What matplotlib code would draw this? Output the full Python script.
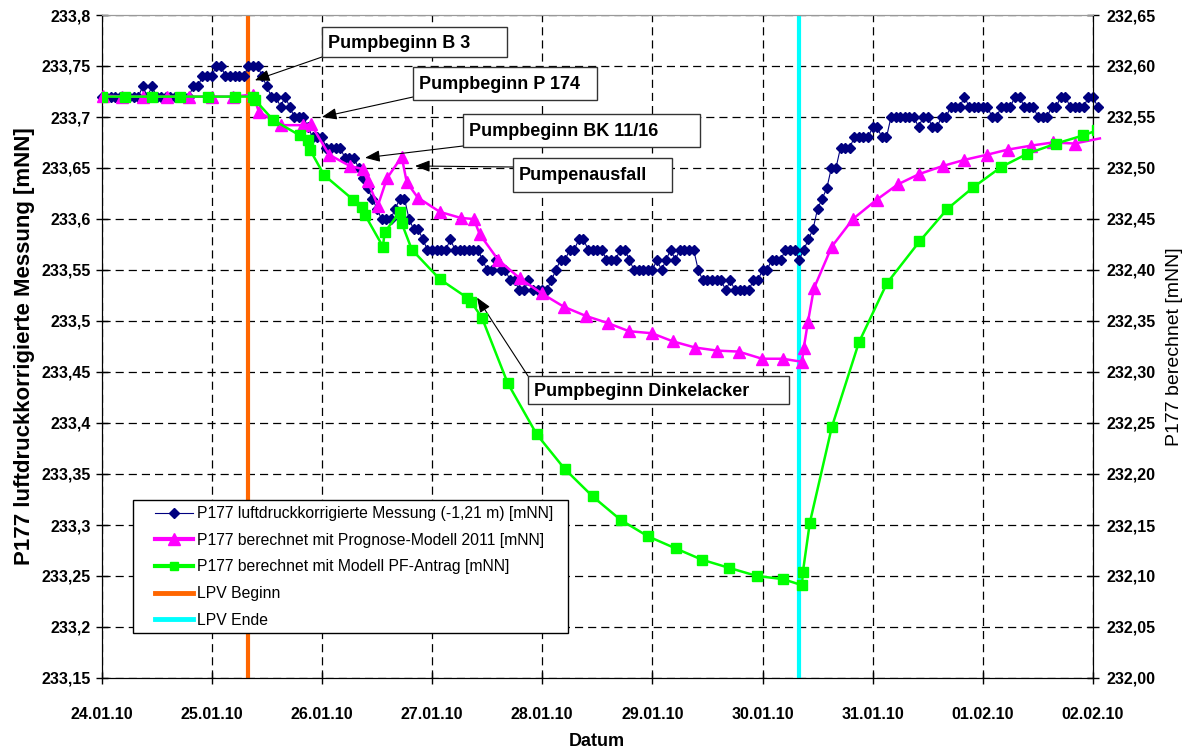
import matplotlib
matplotlib.use("Agg")
import matplotlib.pyplot as plt
import numpy as np
from matplotlib.lines import Line2D
from matplotlib.patches import Rectangle
from matplotlib.ticker import FuncFormatter, MultipleLocator

plt.rcParams["font.family"] = ["Liberation Sans", "DejaVu Sans"]

# =====================================================
#              Data
# =====================================================
# hourly measurement from 24.01.10 00:00, left axis [mNN]
messung = [
    233.72, 233.72, 233.72, 233.72, 233.72, 233.72, 233.72, 233.72, 233.72, 233.73, 233.72, 233.73,
    233.72, 233.72, 233.72, 233.72, 233.72, 233.72, 233.72, 233.72, 233.73, 233.73, 233.74, 233.74,
    233.74, 233.75, 233.75, 233.74, 233.74, 233.74, 233.74, 233.74, 233.75, 233.75, 233.75, 233.74,
    233.73, 233.72, 233.72, 233.71, 233.72, 233.71, 233.70, 233.70, 233.70, 233.69, 233.68, 233.68,
    233.68, 233.67, 233.67, 233.67, 233.67, 233.66, 233.66, 233.66, 233.65, 233.64, 233.63, 233.62,
    233.61, 233.60, 233.60, 233.60, 233.61, 233.62, 233.62, 233.60, 233.59, 233.59, 233.58, 233.57,
    233.57, 233.57, 233.57, 233.57, 233.58, 233.57, 233.57, 233.57, 233.57, 233.57, 233.57, 233.56,
    233.55, 233.55, 233.56, 233.55, 233.55, 233.54, 233.54, 233.53, 233.53, 233.54, 233.53, 233.53,
    233.53, 233.53, 233.54, 233.55, 233.56, 233.56, 233.57, 233.57, 233.58, 233.58, 233.57, 233.57,
    233.57, 233.57, 233.56, 233.56, 233.56, 233.57, 233.57, 233.56, 233.55, 233.55, 233.55, 233.55,
    233.55, 233.56, 233.55, 233.56, 233.57, 233.56, 233.57, 233.57, 233.57, 233.57, 233.55, 233.54,
    233.54, 233.54, 233.54, 233.54, 233.53, 233.54, 233.53, 233.53, 233.53, 233.53, 233.54, 233.54,
    233.55, 233.55, 233.56, 233.56, 233.56, 233.57, 233.57, 233.57, 233.56, 233.57, 233.58, 233.59,
    233.61, 233.62, 233.63, 233.65, 233.65, 233.67, 233.67, 233.67, 233.68, 233.68, 233.68, 233.68,
    233.69, 233.69, 233.68, 233.68, 233.70, 233.70, 233.70, 233.70, 233.70, 233.70, 233.69, 233.70,
    233.70, 233.69, 233.69, 233.70, 233.70, 233.71, 233.71, 233.71, 233.72, 233.71, 233.71, 233.71,
    233.71, 233.71, 233.70, 233.70, 233.71, 233.71, 233.71, 233.72, 233.72, 233.71, 233.71, 233.71,
    233.70, 233.70, 233.70, 233.71, 233.71, 233.72, 233.72, 233.71, 233.71, 233.71, 233.71, 233.72,
    233.72, 233.71,
]

# Prognose-Modell 2011, hours since 24.01.10 00:00 / right axis [mNN]
prognose_h = [
    0.3, 4.5, 9.0, 14.3, 19.1, 24.1, 28.6, 33.0, 34.3, 39.1, 43.9, 45.6, 49.6, 54.1, 56.9,
    58.0, 60.2, 62.2, 65.4, 66.5, 68.9, 73.7, 78.3, 81.1, 82.4, 86.4, 91.1, 95.9, 100.7,
    105.5, 110.3, 114.9, 119.9, 124.5, 129.3, 134.1, 138.8, 143.9, 148.4, 152.6, 153.0,
    153.9, 155.2, 159.1, 163.7, 168.9, 173.5, 178.1, 183.3, 188.0, 192.9, 197.4, 202.6,
    207.2, 212.0, 217.5,
]
prognose_v = [
    232.571, 232.570, 232.570, 232.570, 232.570, 232.570, 232.570, 232.572, 232.555, 232.542,
    232.542, 232.543, 232.513, 232.502, 232.499, 232.487, 232.463, 232.490, 232.511, 232.486,
    232.471, 232.457, 232.451, 232.450, 232.435, 232.410, 232.392, 232.377, 232.364, 232.355,
    232.348, 232.340, 232.338, 232.330, 232.324, 232.321, 232.320, 232.313, 232.313, 232.310,
    232.324, 232.349, 232.382, 232.423, 232.450, 232.469, 232.484, 232.494, 232.502, 232.508,
    232.513, 232.518, 232.522, 232.525, 232.524, 232.529,
]

# Modell PF-Antrag, hours since 24.01.10 00:00 / right axis [mNN]
pf_h = [
    0.1, 5.1, 11.0, 17.1, 23.2, 29.1, 33.0, 33.4, 37.4, 43.2, 45.0, 45.4, 48.5, 54.8, 56.8,
    57.4, 61.3, 61.7, 65.0, 65.4, 67.6, 73.7, 79.6, 80.5, 82.9, 88.5, 94.8, 100.9, 107.0,
    113.1, 119.0, 125.1, 130.8, 136.7, 142.8, 148.4, 152.6, 152.8, 154.3, 159.1, 165.0,
    171.1, 178.2, 184.3, 189.9, 196.0, 201.7, 208.0, 213.9, 216.9,
]
pf_v = [
    232.570, 232.570, 232.570, 232.570, 232.570, 232.570, 232.570, 232.567, 232.547, 232.532,
    232.527, 232.518, 232.493, 232.469, 232.462, 232.454, 232.423, 232.437, 232.457, 232.446,
    232.420, 232.391, 232.373, 232.369, 232.353, 232.289, 232.239, 232.205, 232.178, 232.155,
    232.139, 232.127, 232.116, 232.108, 232.100, 232.097, 232.091, 232.104, 232.152, 232.246,
    232.329, 232.387, 232.428, 232.460, 232.481, 232.501, 232.514, 232.524, 232.532, 232.537,
]

lpv_beginn_h = 32   # 25.01.10 08:00
lpv_ende_h = 152    # 30.01.10 08:00

date_labels = ["24.01.10", "25.01.10", "26.01.10", "27.01.10", "28.01.10",
               "29.01.10", "30.01.10", "31.01.10", "01.02.10", "02.02.10"]

legend_labels = [
    "P177 luftdruckkorrigierte Messung (-1,21 m) [mNN]",
    "P177 berechnet mit Prognose-Modell 2011 [mNN]",
    "P177 berechnet mit Modell PF-Antrag [mNN]",
    "LPV Beginn",
    "LPV Ende",
]

# label, box (x0, y0, x1, y1) in px, arrow start px, arrow target (hour, right-axis value)
notes = [
    ("Pumpbeginn B 3", (322, 27, 507, 57), (322, 57), (33.4, 232.586)),
    ("Pumpbeginn P 174", (413, 67, 597, 100), (413, 97), (48.0, 232.550)),
    ("Pumpbeginn BK 11/16", (463, 114, 700, 147), (463, 146), (57.4, 232.510)),
    ("Pumpenausfall", (513, 158, 672, 192), (513, 167), (68.3, 232.502)),
    ("Pumpbeginn Dinkelacker", (528, 376, 789, 404), (528, 376), (81.8, 232.373)),
]

W, H = 1190, 751
BLUE = "#000080"
PINK = "#FF00FF"
GREEN = "#00FF00"
ORANGE = "#FF6600"
CYAN = "#00FFFF"


def px(x, y):
    return x / W, 1 - y / H


# =====================================================
#                     Plot
# =====================================================
fig = plt.figure(figsize=(W / 100, H / 100), dpi=100)
ax = fig.add_axes([101.5 / W, 1 - 678 / H, (1093 - 101.5) / W, (678 - 15) / H])
ax2 = ax.twinx()

ax.axvline(lpv_beginn_h, color=ORANGE, lw=3, zorder=1)
ax.axvline(lpv_ende_h, color=CYAN, lw=3, zorder=1)

hours = np.arange(len(messung))
ax.plot(hours, messung, color=BLUE, lw=0.8, marker="D", ms=4.8, zorder=3, clip_on=False)
ax2.plot(prognose_h, prognose_v, color=PINK, lw=1.8, marker="^", ms=9,
         markevery=list(range(len(prognose_h) - 1)), zorder=3, clip_on=False)
ax2.plot(pf_h, pf_v, color=GREEN, lw=1.8, marker="s", ms=6.5, zorder=4)

ax.set_xlim(0, 216)
ax.set_ylim(233.15, 233.8)
ax2.set_ylim(232.0, 232.65)

ax.set_xticks(np.arange(0, 217, 24))
ax.set_xticklabels(date_labels)
ax.yaxis.set_major_locator(MultipleLocator(0.05))
ax2.yaxis.set_major_locator(MultipleLocator(0.05))
ax.yaxis.set_major_formatter(FuncFormatter(lambda v, p: f"{v:.2f}".rstrip("0").replace(".", ",")))
ax2.yaxis.set_major_formatter(FuncFormatter(lambda v, p: f"{v:.2f}".replace(".", ",")))

ax.grid(True, color="black", lw=0.9, linestyle=(0, (6.5, 4)))
ax.set_axisbelow(True)

for a in (ax, ax2):
    a.tick_params(direction="inout", length=8, width=1, labelsize=11.5)
    for t in a.get_xticklabels() + a.get_yticklabels():
        t.set_fontweight("bold")
ax.tick_params(axis="x", pad=17)
ax.tick_params(axis="y", pad=4)
ax2.tick_params(axis="y", pad=6)

ax.spines["top"].set_color("#999999")
ax2.spines["top"].set_color("#999999")

ax.set_xlabel("Datum", fontsize=13, fontweight="bold", labelpad=8)
ax.set_ylabel("P177 luftdruckkorrigierte Messung [mNN]", fontsize=16, fontweight="bold", labelpad=4)
ax2.set_ylabel("P177 berechnet [mNN]", fontsize=14, labelpad=7)

# legend: white frame drawn separately, entries placed inside it
fig.add_artist(Rectangle(px(133, 633), (568 - 133) / W, (633 - 500) / H,
                         transform=fig.transFigure, facecolor="white",
                         edgecolor="black", lw=1, zorder=4.5))
handles = [
    Line2D([], [], color=BLUE, lw=0.8, marker="D", ms=4.8),
    Line2D([], [], color=PINK, lw=3, marker="^", ms=8),
    Line2D([], [], color=GREEN, lw=3, marker="s", ms=6),
    Line2D([], [], color=ORANGE, lw=3.5),
    Line2D([], [], color=CYAN, lw=3.5),
]
leg = fig.legend(handles, legend_labels, loc="upper left",
                 bbox_to_anchor=px(155, 506), bbox_transform=fig.transFigure,
                 fontsize=11.3, frameon=False, handlelength=2.42, handletextpad=0.25,
                 labelspacing=0.745, borderpad=0, borderaxespad=0)
leg.set_zorder(6)

for label, (x0, y0, x1, y1), start, target in notes:
    ax2.annotate("", xy=target, xycoords="data", xytext=px(*start),
                 textcoords="figure fraction",
                 arrowprops=dict(arrowstyle="-|>,head_length=0.9,head_width=0.35",
                                 color="black", lw=0.8, mutation_scale=10,
                                 shrinkA=0, shrinkB=0))
    fig.add_artist(Rectangle(px(x0, y1), (x1 - x0) / W, (y1 - y0) / H,
                             transform=fig.transFigure, facecolor="white",
                             edgecolor="#333333", lw=1, zorder=5))
    fig.text(*px(x0 + 6, (y0 + y1) / 2 + 1), label, fontsize=13, fontweight="bold",
             ha="left", va="center", zorder=6)

fig.savefig("out.png", dpi=100)
